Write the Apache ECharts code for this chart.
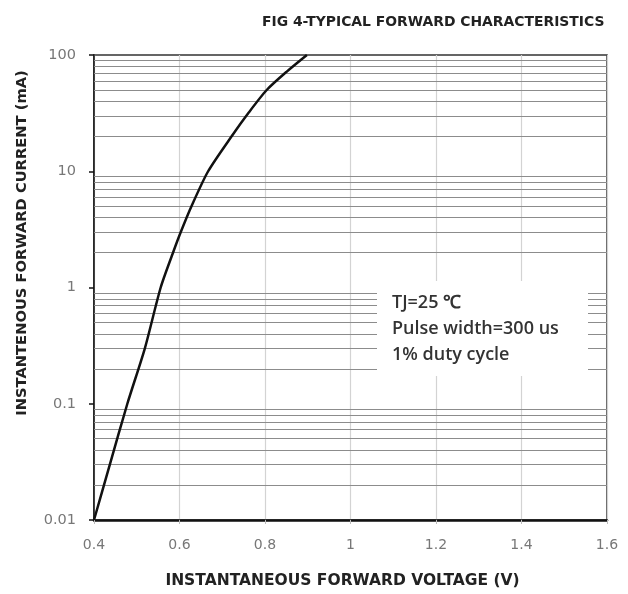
<!DOCTYPE html>
<html>
<head>
<meta charset="utf-8">
<script src="https://cdn.jsdelivr.net/npm/echarts@6/dist/echarts.min.js"></script>
<style>
  html, body { margin: 0; padding: 0; background: #fff; }
  #chart { width: 628px; height: 594px; }
</style>
</head>
<body>
<div id="chart"></div>
<script>
// Data
const voltage = [0.4, 0.437, 0.478, 0.519, 0.556, 0.585, 0.603, 0.628, 0.667, 0.722, 0.762, 0.804, 0.851, 0.898];
const current = [0.01, 0.03, 0.1, 0.3, 1, 2, 3, 5, 10, 20, 32, 50, 72, 100];
const xTicks = [0.4, 0.6, 0.8, 1, 1.2, 1.4, 1.6];
const yDecades = [0.01, 0.1, 1, 10];
const minorMultipliers = [2, 3, 4, 5, 6, 7, 8, 9];
const noteLines = ['TJ=25 \u2103', 'Pulse width=300 us', '1% duty cycle'];
const titleText = 'FIG 4-TYPICAL FORWARD CHARACTERISTICS';
const xName = 'INSTANTANEOUS FORWARD VOLTAGE (V)';
const yName = 'INSTANTENOUS FORWARD CURRENT (mA)';

const gridValues = [];
yDecades.forEach(d => minorMultipliers.forEach(m => gridValues.push(+(d * m).toPrecision(3))));

const chart = echarts.init(document.getElementById('chart'));
chart.setOption({
  animation: false,
  backgroundColor: '#fff',
  title: {
    text: titleText,
    left: 257, top: 10,
    textStyle: { fontFamily: 'DejaVu Sans', fontWeight: 'bold', fontSize: 13.9, color: '#222' }
  },
  grid: { left: 94, right: 21, top: 55, bottom: 73, show: true, borderColor: '#333', borderWidth: 1.5 },
  xAxis: {
    type: 'value', min: 0.4, max: 1.6, interval: 0.2,
    name: xName, nameLocation: 'middle', nameGap: 53,
    nameTextStyle: { fontFamily: 'DejaVu Sans', fontWeight: 'bold', fontSize: 15.5, color: '#222', padding: [0, 16, 0, 0] },
    axisLine: { lineStyle: { color: '#111', width: 2.5 } },
    axisTick: { show: true, length: 4, lineStyle: { color: '#bbb' } },
    axisLabel: { fontFamily: 'DejaVu Sans', fontSize: 14, color: '#777', margin: 18,
      formatter: v => { const t = xTicks.find(x => Math.abs(x - v) < 1e-6); return t === undefined ? '' : String(t); } },
    splitLine: { show: true, lineStyle: { color: '#d3d3d3', width: 1.2 } }
  },
  yAxis: {
    type: 'log', logBase: 10, min: 0.01, max: 100,
    axisLine: { show: true, lineStyle: { color: '#111', width: 1.5 } },
    axisTick: { show: true, length: 5, lineStyle: { color: '#111', width: 1.5 } },
    axisLabel: { fontFamily: 'DejaVu Sans', fontSize: 14.5, color: '#777', margin: 18,
      formatter: v => { const n = +v.toPrecision(3); return String(n); } },
    splitLine: { show: false }
  },
  graphic: [
    { type: 'text', x: 22, y: 243, rotation: Math.PI / 2,
      style: { text: yName, fontFamily: 'DejaVu Sans', fontWeight: 'bold', fontSize: 14.7, fill: '#222', align: 'center', verticalAlign: 'middle' } },
    { type: 'rect', z: 100, shape: { x: 377, y: 281, width: 211, height: 95 }, style: { fill: '#fff' } },
    ...noteLines.map((t, i) => ({
      type: 'text', z: 101, x: 392, y: 303 + i * 26,
      style: { text: t, fontFamily: 'Open Sans', fontWeight: 600, fontSize: 18, fill: '#333', verticalAlign: 'middle' }
    }))
  ],
  series: [{
    type: 'line',
    data: voltage.map((v, i) => [v, current[i]]),
    smooth: 0.25,
    showSymbol: false,
    lineStyle: { color: '#111', width: 2.5 },
    z: 5,
    markLine: {
      silent: true, symbol: 'none', label: { show: false },
      lineStyle: { color: '#8c8c8c', width: 1.2, type: 'solid' },
      data: gridValues.map(v => ({ yAxis: v }))
    }
  }]
});
</script>
</body>
</html>
